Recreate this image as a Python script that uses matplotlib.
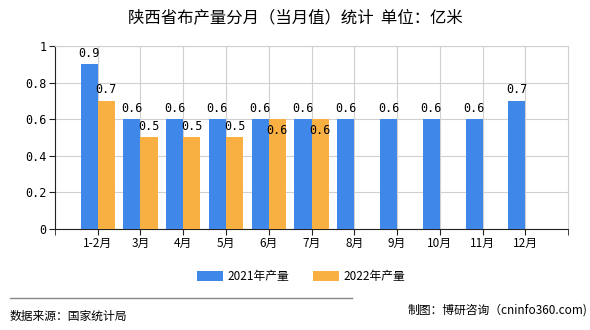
import matplotlib

matplotlib.use("Agg")
import matplotlib.pyplot as plt
import numpy as np

plt.rcParams["font.family"] = ["Noto Sans CJK SC", "DejaVu Sans"]

# data
months = ["1-2月", "3月", "4月", "5月", "6月", "7月", "8月", "9月", "10月", "11月", "12月"]
output_2021 = [0.9, 0.6, 0.6, 0.6, 0.6, 0.6, 0.6, 0.6, 0.6, 0.6, 0.7]
output_2022 = [0.7, 0.5, 0.5, 0.5, 0.6, 0.6]
series_names = ["2021年产量", "2022年产量"]
y_ticks = [0, 0.2, 0.4, 0.6, 0.8, 1]

BLUE = "#3f88ea"
ORANGE = "#f9b042"
MONO = "DejaVu Sans Mono"

fig = plt.figure(figsize=(5.9, 3.3), dpi=100)
ax = fig.add_axes([0.093, 0.306, 0.870, 0.555])

x = np.arange(len(months))
w = 0.4
b1 = ax.bar(x[: len(output_2021)] - w / 2, output_2021, w, color=BLUE, label=series_names[0], zorder=3)
b2 = ax.bar(x[: len(output_2022)] + w / 2, output_2022, w, color=ORANGE, label=series_names[1], zorder=3)

for xi, v in zip(x, output_2021):
    ax.text(xi - w / 2, v + 0.025, f"{v:g}", ha="center", va="bottom",
            fontsize=8.5, family=MONO, zorder=4)
for xi, v in zip(x, output_2022):
    # when the two bars are equal the label would collide, so tuck it inside
    if abs(v - output_2021[xi]) < 1e-9:
        ax.text(xi + w / 2, v - 0.025, f"{v:g}", ha="center", va="top",
                fontsize=8.5, family=MONO, zorder=4)
    else:
        ax.text(xi + w / 2, v + 0.025, f"{v:g}", ha="center", va="bottom",
                fontsize=8.5, family=MONO, zorder=4)

ax.set_xlim(-1, len(months))
ax.set_ylim(0, 1)
ax.set_xticks(x)
ax.set_xticks([-1, len(months)], minor=True)
ax.set_xticklabels(months, fontsize=8.5)
ax.set_yticks(y_ticks)
ax.set_yticklabels([f"{t:g}" for t in y_ticks], fontsize=8.5, family=MONO)

ax.grid(True, color="#d0d0d0", linewidth=0.8, zorder=0)
for side in ["top", "right"]:
    ax.spines[side].set_color("#d0d0d0")
    ax.spines[side].set_linewidth(0.8)
ax.spines["left"].set_color("#222222")
ax.spines["bottom"].set_color("#222222")
ax.tick_params(axis="x", which="both", length=4, color="#222222", pad=2)
ax.tick_params(axis="y", length=4, color="#222222", pad=2)

fig.text(0.5, 0.945, "陕西省布产量分月（当月值）统计  单位：亿米",
         ha="center", va="center", fontsize=11.8)

fig.legend(handles=[b1, b2], labels=series_names, loc="center",
           bbox_to_anchor=(0.51, 0.163), ncol=2, frameon=False, fontsize=8.5,
           handlelength=2.2, handleheight=0.9, columnspacing=2.0, handletextpad=0.4)

fig.add_artist(plt.Line2D([0.017, 0.597], [0.097, 0.097], color="#888888", linewidth=1.0))
fig.text(0.017, 0.042, "数据来源：国家统计局", ha="left", va="center", fontsize=8.5)
fig.text(0.995, 0.06, "制图：博研咨询（cninfo360.com)", ha="right", va="center", fontsize=8.5)

fig.savefig("out.png", dpi=100)
